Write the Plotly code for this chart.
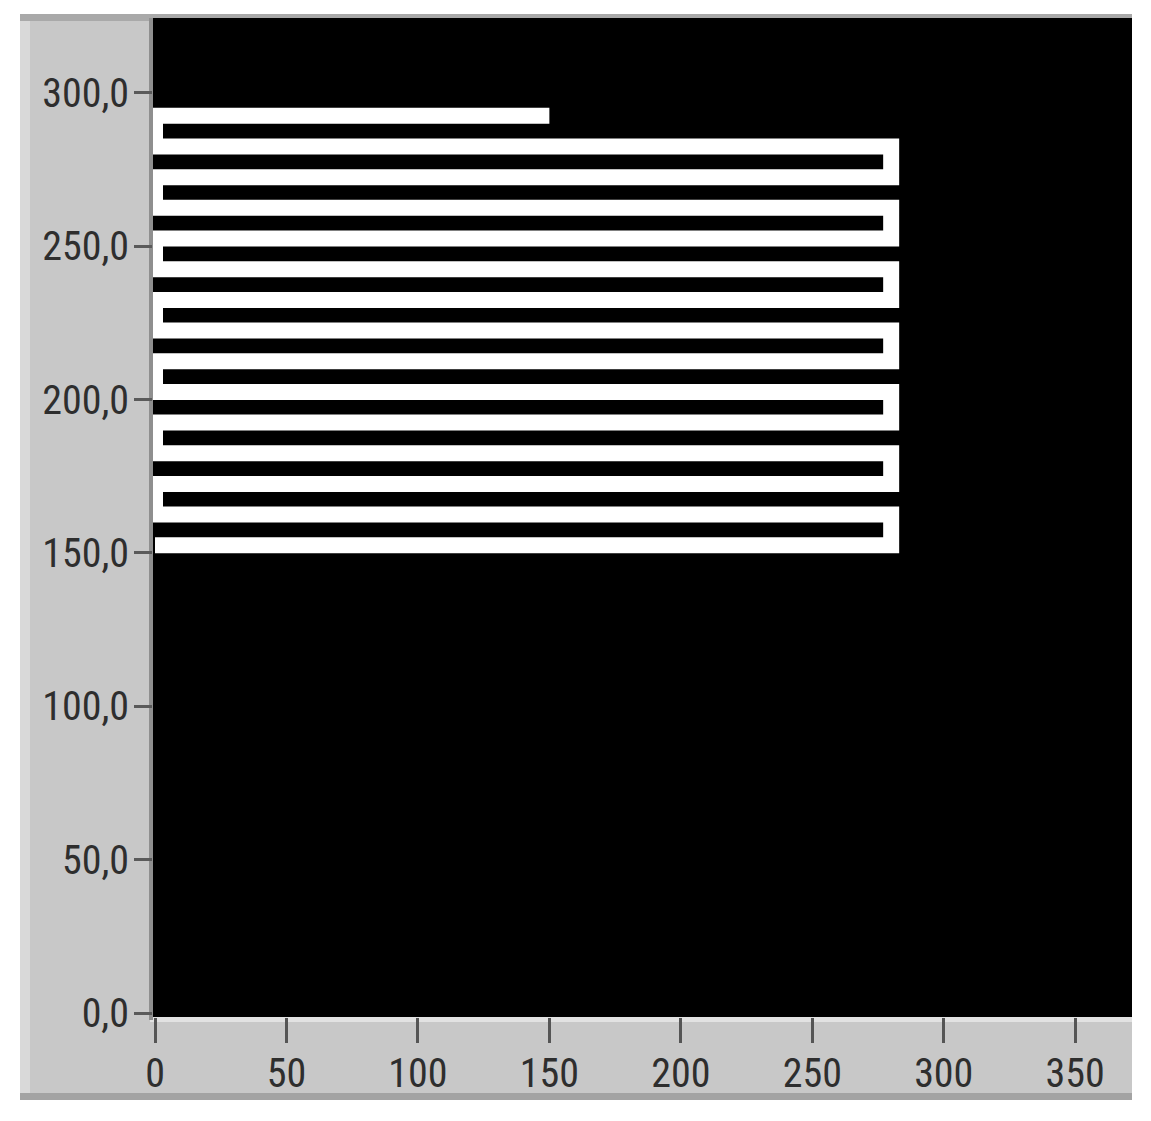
import plotly.graph_objects as go

# Serpentine path vertices (data units)
path_x = [150, 0, 0, 280, 280, 0, 0, 280, 280, 0, 0, 280, 280, 0, 0, 280,
          280, 0, 0, 280, 280, 0, 0, 280, 280, 0, 0, 280, 280, 0]
path_y = [292.5, 292.5, 282.5, 282.5, 272.5, 272.5, 262.5, 262.5, 252.5, 252.5,
          242.5, 242.5, 232.5, 232.5, 222.5, 222.5, 212.5, 212.5, 202.5, 202.5,
          192.5, 192.5, 182.5, 182.5, 172.5, 172.5, 162.5, 162.5, 152.5, 152.5]

x_ticks = [0, 50, 100, 150, 200, 250, 300, 350]
y_ticks = [0, 50, 100, 150, 200, 250, 300]

W, H = 1151, 1121
OFF = 8  # page body margin
L, R, T, B = 153 - OFF, 1132 - OFF, 18 - OFF, 1017 - OFF  # plot area in figure pixels


def px(p):
    p = p - OFF
    return (p - L) / (R - L)


def py(p):
    p = p - OFF
    return (B - p) / (B - T)


FONT = "Liberation Sans Narrow, Roboto Condensed, DejaVu Sans Condensed, Liberation Sans, sans-serif"

fig = go.Figure()
fig.add_trace(go.Scatter(
    x=path_x, y=path_y, mode="lines",
    line=dict(color="white", width=16),
    hoverinfo="skip", showlegend=False,
))

shapes = [
    # grey panel
    dict(type="rect", xref="paper", yref="paper", x0=px(20), x1=px(1132), y0=py(1100), y1=py(14),
         fillcolor="#c8c8c8", line=dict(width=0), layer="below"),
    # lighter left strip
    dict(type="rect", xref="paper", yref="paper", x0=px(20), x1=px(30), y0=py(1100), y1=py(14),
         fillcolor="#d9d9d9", line=dict(width=0), layer="below"),
    # darker top strip
    dict(type="rect", xref="paper", yref="paper", x0=px(20), x1=px(1132), y0=py(21), y1=py(14),
         fillcolor="#a9a9a9", line=dict(width=0), layer="below"),
    # darker bottom strip
    dict(type="rect", xref="paper", yref="paper", x0=px(20), x1=px(1132), y0=py(1100), y1=py(1093),
         fillcolor="#a3a3a3", line=dict(width=0), layer="below"),
    # light strip under plot
    dict(type="rect", xref="paper", yref="paper", x0=px(150), x1=px(1132), y0=py(1022), y1=py(1017),
         fillcolor="#e2e2e2", line=dict(width=0), layer="below"),
    # dark line left of plot
    dict(type="rect", xref="paper", yref="paper", x0=px(149), x1=px(153), y0=py(1020), y1=py(18),
         fillcolor="#8f8f8f", line=dict(width=0), layer="below"),
    # black plot area
    dict(type="rect", xref="paper", yref="paper", x0=0, x1=1, y0=0, y1=1,
         fillcolor="black", line=dict(width=0), layer="below"),
]

fig.update_layout(
    width=W, height=H,
    margin=dict(l=L, r=W - R, t=T, b=H - B, pad=0),
    paper_bgcolor="white",
    plot_bgcolor="black",
    separators=",.",
    shapes=shapes,
    showlegend=False,
    xaxis=dict(
        range=[-0.76, 371.6], tickvals=x_ticks, tickformat="d",
        showgrid=False, zeroline=False, showline=False,
        ticks="outside", ticklen=25, tickwidth=3, tickcolor="#555555",
        tickfont=dict(family=FONT, size=40, color="#2e2e2e"),
        ticklabelstandoff=-4,
    ),
    yaxis=dict(
        range=[-1.3, 324.4], tickvals=y_ticks, tickformat=".1f",
        showgrid=False, zeroline=False, showline=False,
        ticks="outside", ticklen=18, tickwidth=3, tickcolor="#5a5a5a",
        tickfont=dict(family=FONT, size=40, color="#2e2e2e"),
        ticklabelstandoff=-3,
    ),
)

fig.write_html("out.html")
